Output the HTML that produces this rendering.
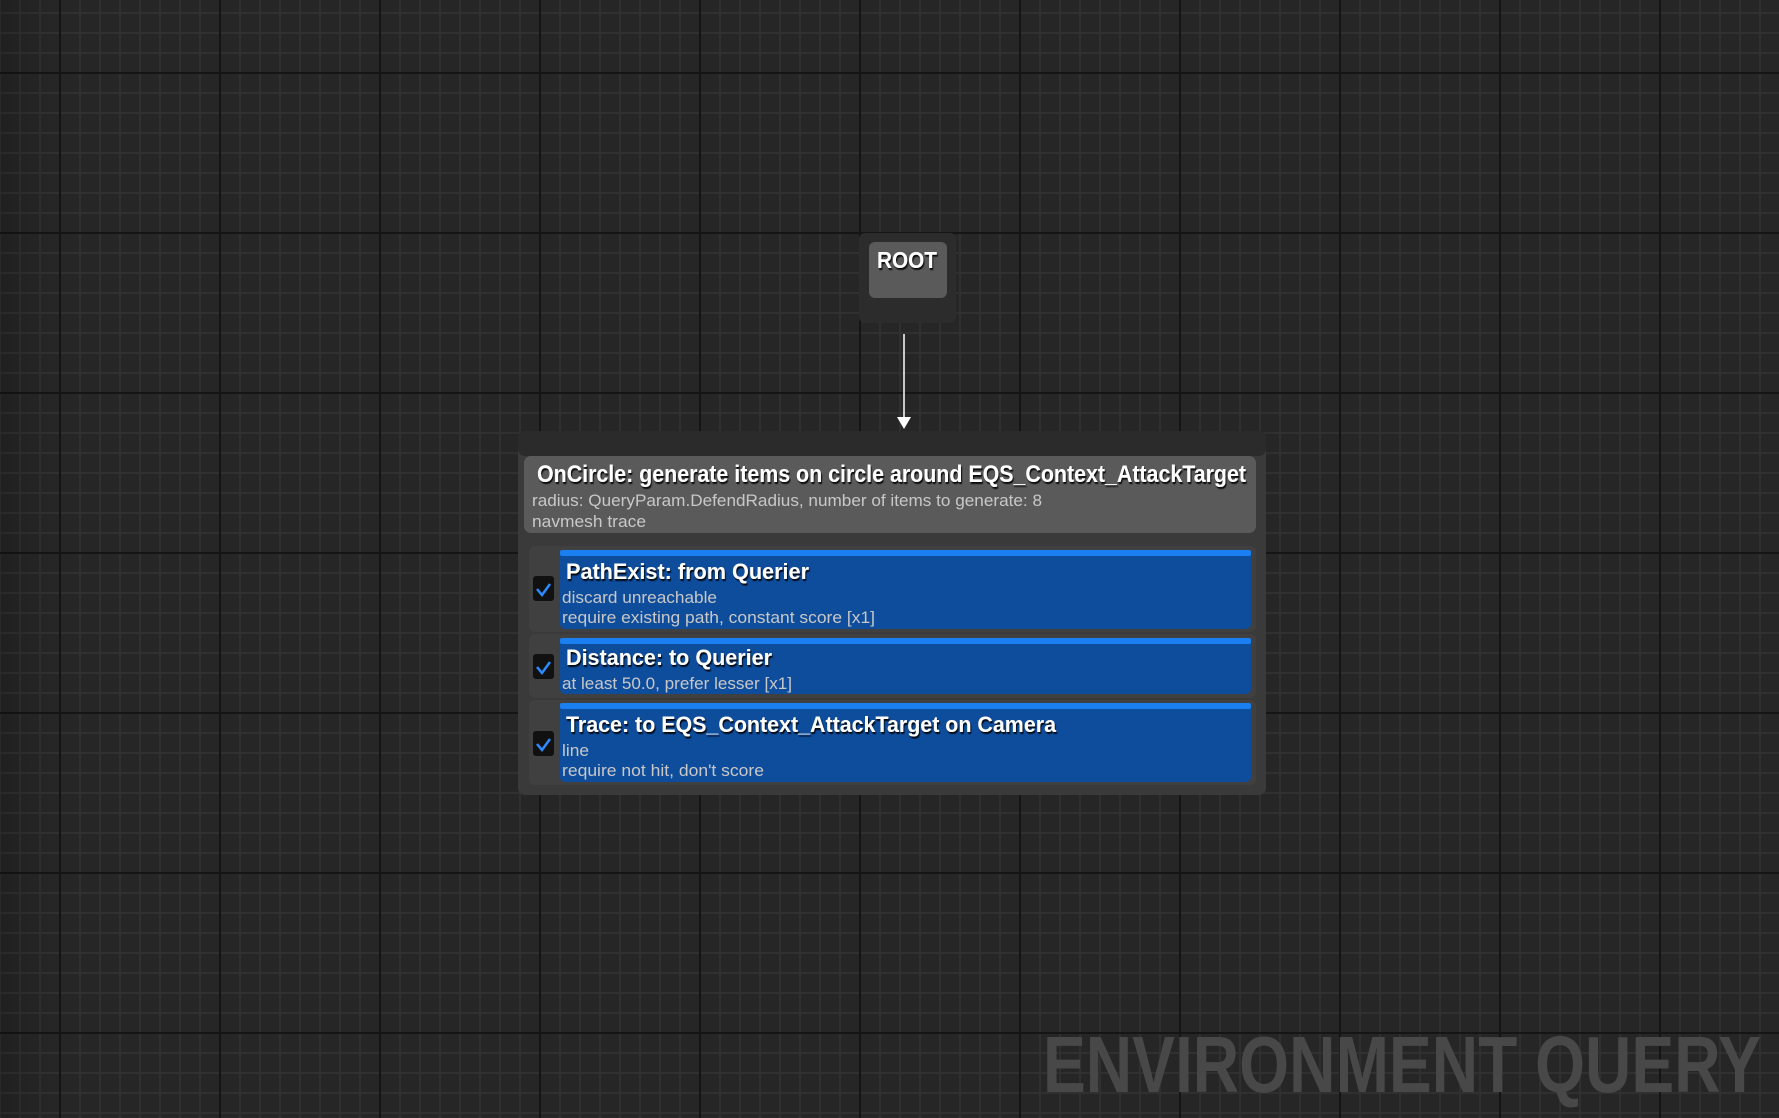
<!DOCTYPE html>
<html><head><meta charset="utf-8"><style>
html,body{margin:0;padding:0;background:#262626;}
svg{display:block}
</style></head><body>
<svg width="1779" height="1118" viewBox="0 0 1779 1118" xmlns="http://www.w3.org/2000/svg" font-family="Liberation Sans, sans-serif">
<defs>
<pattern id="minor" x="-1" y="12" width="20" height="20" patternUnits="userSpaceOnUse">
<rect width="20" height="20" fill="#262626"/>
<rect x="0" y="0" width="2" height="20" fill="#303030"/>
<rect x="0" y="0" width="20" height="2" fill="#303030"/>
</pattern>
<pattern id="major" x="59" y="72" width="160" height="160" patternUnits="userSpaceOnUse">
<rect x="0" y="0" width="2" height="160" fill="#151515"/>
<rect x="0" y="0" width="160" height="2" fill="#151515"/>
</pattern>
<linearGradient id="edge" x1="0" x2="1" y1="0" y2="0">
<stop offset="0" stop-color="#000" stop-opacity="0.15"/>
<stop offset="0.03" stop-color="#000" stop-opacity="0"/>
</linearGradient>
<filter id="sh"><feDropShadow dx="1" dy="2" stdDeviation="0.5" flood-color="#000" flood-opacity="0.9"/></filter>
</defs>
<rect width="1779" height="1118" fill="url(#minor)"/>
<rect width="1779" height="1118" fill="url(#major)"/>
<rect width="1779" height="1118" fill="url(#edge)"/>

<text x="1043" y="1092" font-size="80" font-weight="bold" fill="#484848" textLength="718" lengthAdjust="spacingAndGlyphs">ENVIRONMENT QUERY</text>

<!-- ROOT -->
<rect x="859" y="233" width="97" height="90" rx="6" fill="#2c2c2c"/>
<rect x="869" y="242" width="78" height="56" rx="6" fill="#5a5a5a"/>
<text x="877" y="268" font-size="23" font-weight="bold" fill="#fff" filter="url(#sh)" textLength="60" lengthAdjust="spacingAndGlyphs">ROOT</text>

<!-- arrow -->
<line x1="904" y1="334" x2="904" y2="420" stroke="#fff" stroke-width="1.5"/>
<polygon points="897,417 911,417 904,429" fill="#fff"/>

<!-- main node -->
<rect x="518" y="431" width="748" height="364" rx="7" fill="#3a3a3a"/>
<rect x="518" y="431" width="748" height="25" rx="7" fill="#2b2b2b"/>
<rect x="524" y="456" width="732" height="77" rx="7" fill="#5a5a5a"/>
<text x="537" y="482" font-size="24" font-weight="bold" fill="#fff" filter="url(#sh)" textLength="709" lengthAdjust="spacingAndGlyphs">OnCircle: generate items on circle around EQS_Context_AttackTarget</text>
<text x="532" y="506" font-size="17" fill="#c8c8c8" textLength="510" lengthAdjust="spacingAndGlyphs">radius: QueryParam.DefendRadius, number of items to generate: 8</text>
<text x="532" y="527" font-size="17" fill="#c8c8c8" textLength="114" lengthAdjust="spacingAndGlyphs">navmesh trace</text>

<!-- rows -->
<rect x="529" y="546" width="727" height="86" rx="6" fill="#404040"/>
<rect x="529" y="634" width="727" height="64" rx="6" fill="#404040"/>
<rect x="529" y="700" width="727" height="85" rx="6" fill="#404040"/>

<g>
<rect x="560" y="550" width="691" height="79" rx="5" fill="#0e4c9c"/>
<rect x="560" y="550" width="691" height="6" rx="2" fill="#1a7ff0"/>
<rect x="533" y="576" width="21" height="25" rx="3" fill="#111"/>
<path d="M537,589 l5,6 l8,-11" stroke="#2a8cff" stroke-width="2.5" fill="none"/>
<text x="566" y="579" font-size="22" font-weight="bold" fill="#fff" filter="url(#sh)" textLength="243" lengthAdjust="spacingAndGlyphs">PathExist: from Querier</text>
<text x="562" y="603" font-size="17" fill="#c8c8c8" textLength="155" lengthAdjust="spacingAndGlyphs">discard unreachable</text>
<text x="562" y="623" font-size="17" fill="#c8c8c8" textLength="313" lengthAdjust="spacingAndGlyphs">require existing path, constant score [x1]</text>
</g>
<g>
<rect x="560" y="638" width="691" height="56" rx="5" fill="#0e4c9c"/>
<rect x="560" y="638" width="691" height="6" rx="2" fill="#1a7ff0"/>
<rect x="533" y="654" width="21" height="25" rx="3" fill="#111"/>
<path d="M537,667 l5,6 l8,-11" stroke="#2a8cff" stroke-width="2.5" fill="none"/>
<text x="566" y="665" font-size="22" font-weight="bold" fill="#fff" filter="url(#sh)" textLength="206" lengthAdjust="spacingAndGlyphs">Distance: to Querier</text>
<text x="562" y="689" font-size="17" fill="#c8c8c8" textLength="230" lengthAdjust="spacingAndGlyphs">at least 50.0, prefer lesser [x1]</text>
</g>
<g>
<rect x="560" y="703" width="691" height="79" rx="5" fill="#0e4c9c"/>
<rect x="560" y="703" width="691" height="6" rx="2" fill="#1a7ff0"/>
<rect x="533" y="731" width="21" height="25" rx="3" fill="#111"/>
<path d="M537,744 l5,6 l8,-11" stroke="#2a8cff" stroke-width="2.5" fill="none"/>
<text x="566" y="732" font-size="22" font-weight="bold" fill="#fff" filter="url(#sh)" textLength="490" lengthAdjust="spacingAndGlyphs">Trace: to EQS_Context_AttackTarget on Camera</text>
<text x="562" y="756" font-size="17" fill="#c8c8c8" textLength="27" lengthAdjust="spacingAndGlyphs">line</text>
<text x="562" y="776" font-size="17" fill="#c8c8c8" textLength="202" lengthAdjust="spacingAndGlyphs">require not hit, don't score</text>
</g>
</svg>
</body></html>
